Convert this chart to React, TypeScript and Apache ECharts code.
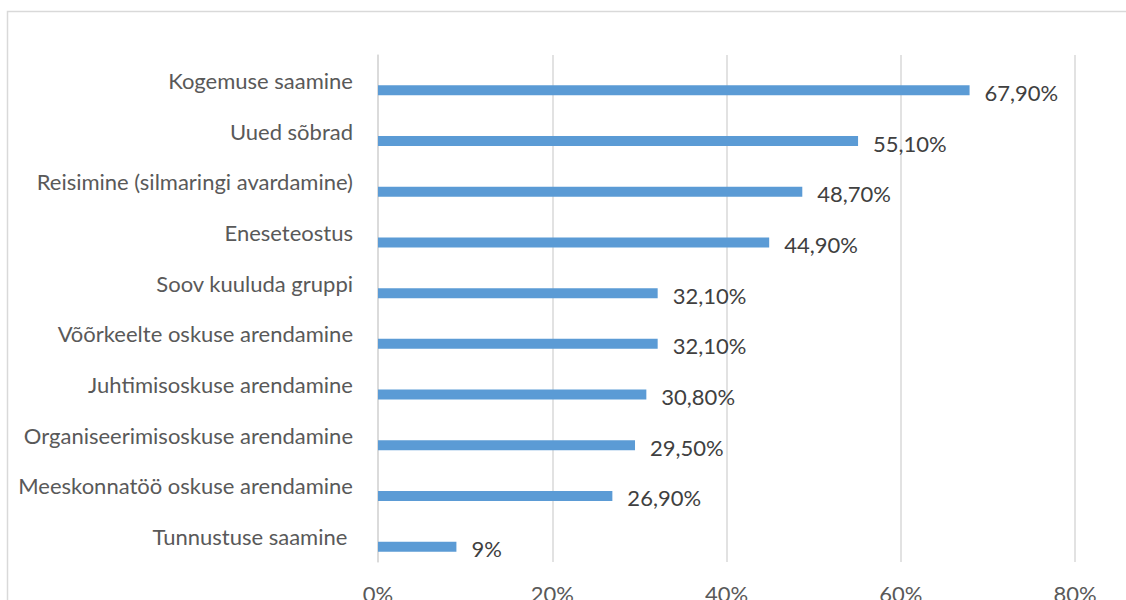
import React, { useEffect, useRef } from "react";
import * as echarts from "echarts";

const categories = [
  "Kogemuse saamine",
  "Uued sõbrad",
  "Reisimine (silmaringi avardamine)",
  "Eneseteostus",
  "Soov kuuluda gruppi",
  "Võõrkeelte oskuse arendamine",
  "Juhtimisoskuse arendamine",
  "Organiseerimisoskuse arendamine",
  "Meeskonnatöö oskuse arendamine",
  "Tunnustuse saamine ",
];
const values = [67.9, 55.1, 48.7, 44.9, 32.1, 32.1, 30.8, 29.5, 26.9, 9];
const valueLabels = ["67,90%", "55,10%", "48,70%", "44,90%", "32,10%", "32,10%", "30,80%", "29,50%", "26,90%", "9%"];
const xTicks = [0, 20, 40, 60, 80];

export default function App() {
  const ref = useRef<HTMLDivElement>(null);
  useEffect(() => {
    document.body.style.margin = "0";
    const chart = echarts.init(ref.current!, null, { renderer: "svg" });
    const font = "Lato";
    const fs = 22;
    chart.setOption({
      animation: false,
      backgroundColor: "#ffffff",
      textStyle: { fontFamily: font },
      grid: {
        left: 378,
        right: 51,
        top: 55,
        bottom: 38,
        containLabel: false,
        outerBoundsMode: "none",
      },
      graphic: [
        {
          type: "rect",
          shape: { x: 7.5, y: 11.5, width: 1130, height: 600 },
          style: { fill: "none", stroke: "#d9d9d9", lineWidth: 1.5 },
          silent: true,
        },
      ],
      xAxis: {
        type: "value",
        min: xTicks[0],
        max: xTicks[xTicks.length - 1],
        interval: 20,
        axisLine: { show: false },
        axisTick: { show: false },
        splitLine: { show: true, lineStyle: { color: "#d9d9d9", width: 1.5 } },
        axisLabel: {
          margin: 20,
          color: "#595959",
          fontSize: fs,
          fontFamily: font,
          formatter: (v: number) => v + "%",
        },
      },
      yAxis: {
        type: "category",
        data: categories,
        inverse: true,
        axisLine: { show: true, lineStyle: { color: "#d9d9d9", width: 1.5 } },
        axisTick: { show: false },
        axisLabel: {
          margin: 25,
          color: "#595959",
          fontSize: fs,
          fontFamily: font,
        },
      },
      series: [
        {
          type: "bar",
          data: categories.map(() => "-"),
          barWidth: 10,
          barGap: "100%",
          silent: true,
        },
        {
          type: "bar",
          data: values,
          barWidth: 10,
          barGap: "100%",
          itemStyle: { color: "#5b9bd5" },
          label: {
            show: true,
            position: "right",
            distance: 15,
            offset: [0, 2],
            color: "#404040",
            fontSize: fs,
            fontFamily: font,
            formatter: (p: any) => valueLabels[p.dataIndex],
          },
        },
      ],
    });
    return () => chart.dispose();
  }, []);
  return <div ref={ref} style={{ width: 1126, height: 600 }} />;
}
